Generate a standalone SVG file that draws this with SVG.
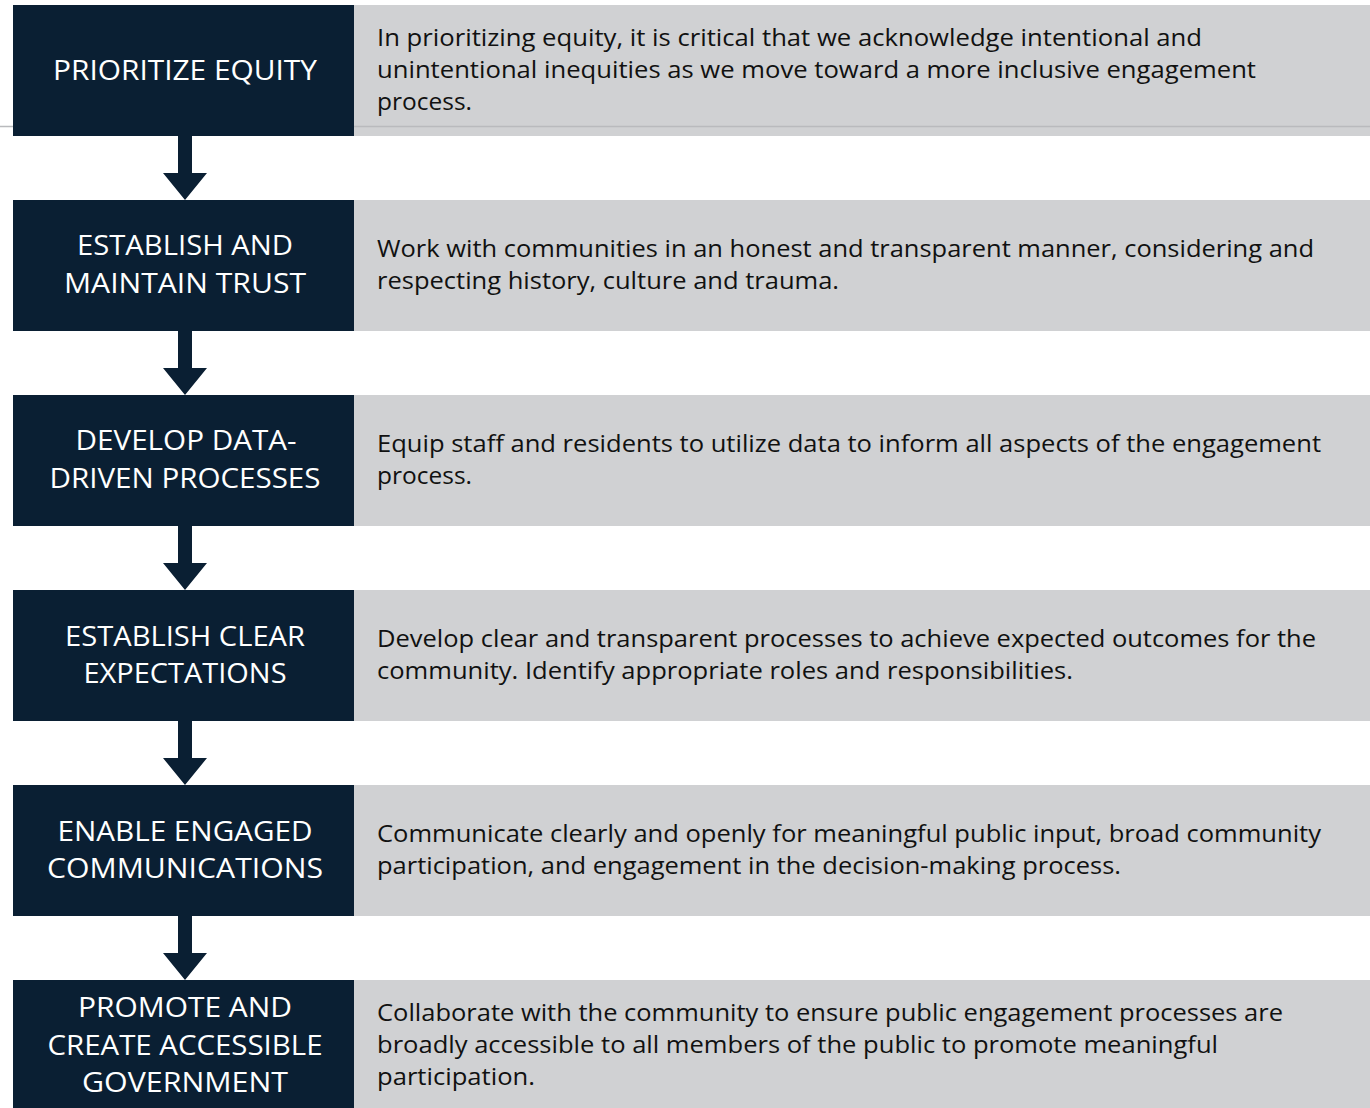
<svg xmlns="http://www.w3.org/2000/svg" width="1370" height="1108" viewBox="0 0 1370 1108">
<style>
.hd{fill:#0a1f33}
.bx{fill:#d0d1d3}
.ht{fill:#ffffff;font-family:"Open Sans","Liberation Sans",sans-serif;font-size:27px;text-anchor:middle}
.bt{fill:#111111;font-family:"Open Sans","Liberation Sans",sans-serif;font-size:24px}
.ar{fill:#0a1f33}
</style>
<rect x="0" y="0" width="1370" height="1108" fill="#ffffff"/>
<line x1="0" y1="126.5" x2="1370" y2="126.5" stroke="#b9babd" stroke-width="1.5"/>
<g id="connectors">
<polygon class="ar" points="178,136 192,136 192,173 207,173 185,200 163,173 178,173"/>
<polygon class="ar" points="178,331 192,331 192,368 207,368 185,395 163,368 178,368"/>
<polygon class="ar" points="178,526 192,526 192,563 207,563 185,590 163,563 178,563"/>
<polygon class="ar" points="178,721 192,721 192,758 207,758 185,785 163,758 178,758"/>
<polygon class="ar" points="178,916 192,916 192,953 207,953 185,980 163,953 178,953"/>
</g>
<g id="node1">
<rect class="bx" x="354" y="5" width="1016" height="131"/>
<line x1="354" y1="126.5" x2="1370" y2="126.5" stroke="#b9babd" stroke-width="1.5"/>
<rect class="hd" x="13" y="5" width="341" height="131"/>
<text class="ht" x="185" y="80" textLength="264" lengthAdjust="spacingAndGlyphs">PRIORITIZE EQUITY</text>
<text class="bt" x="377" y="46" textLength="825" lengthAdjust="spacingAndGlyphs">In prioritizing equity, it is critical that we acknowledge intentional and</text>
<text class="bt" x="377" y="78" textLength="879" lengthAdjust="spacingAndGlyphs">unintentional inequities as we move toward a more inclusive engagement</text>
<text class="bt" x="377" y="110" textLength="95" lengthAdjust="spacingAndGlyphs">process.</text>
</g>
<g id="node2">
<rect class="bx" x="354" y="200" width="1016" height="131"/>
<rect class="hd" x="13" y="200" width="341" height="131"/>
<text class="ht" x="185" y="255" textLength="216" lengthAdjust="spacingAndGlyphs">ESTABLISH AND</text>
<text class="ht" x="185" y="293" textLength="242" lengthAdjust="spacingAndGlyphs">MAINTAIN TRUST</text>
<text class="bt" x="377" y="257" textLength="937" lengthAdjust="spacingAndGlyphs">Work with communities in an honest and transparent manner, considering and</text>
<text class="bt" x="377" y="289" textLength="462" lengthAdjust="spacingAndGlyphs">respecting history, culture and trauma.</text>
</g>
<g id="node3">
<rect class="bx" x="354" y="395" width="1016" height="131"/>
<rect class="hd" x="13" y="395" width="341" height="131"/>
<text class="ht" x="186" y="450" textLength="221" lengthAdjust="spacingAndGlyphs">DEVELOP DATA-</text>
<text class="ht" x="185" y="488" textLength="271" lengthAdjust="spacingAndGlyphs">DRIVEN PROCESSES</text>
<text class="bt" x="377" y="452" textLength="944" lengthAdjust="spacingAndGlyphs">Equip staff and residents to utilize data to inform all aspects of the engagement</text>
<text class="bt" x="377" y="484" textLength="95" lengthAdjust="spacingAndGlyphs">process.</text>
</g>
<g id="node4">
<rect class="bx" x="354" y="590" width="1016" height="131"/>
<rect class="hd" x="13" y="590" width="341" height="131"/>
<text class="ht" x="185" y="646" textLength="240" lengthAdjust="spacingAndGlyphs">ESTABLISH CLEAR</text>
<text class="ht" x="185" y="683" textLength="203" lengthAdjust="spacingAndGlyphs">EXPECTATIONS</text>
<text class="bt" x="377" y="647" textLength="939" lengthAdjust="spacingAndGlyphs">Develop clear and transparent processes to achieve expected outcomes for the</text>
<text class="bt" x="377" y="679" textLength="696" lengthAdjust="spacingAndGlyphs">community. Identify appropriate roles and responsibilities.</text>
</g>
<g id="node5">
<rect class="bx" x="354" y="785" width="1016" height="131"/>
<rect class="hd" x="13" y="785" width="341" height="131"/>
<text class="ht" x="185" y="841" textLength="255" lengthAdjust="spacingAndGlyphs">ENABLE ENGAGED</text>
<text class="ht" x="185" y="878" textLength="276" lengthAdjust="spacingAndGlyphs">COMMUNICATIONS</text>
<text class="bt" x="377" y="842" textLength="944" lengthAdjust="spacingAndGlyphs">Communicate clearly and openly for meaningful public input, broad community</text>
<text class="bt" x="377" y="874" textLength="744" lengthAdjust="spacingAndGlyphs">participation, and engagement in the decision-making process.</text>
</g>
<g id="node6">
<rect class="bx" x="354" y="980" width="1016" height="128"/>
<rect class="hd" x="13" y="980" width="341" height="128"/>
<text class="ht" x="185" y="1017" textLength="214" lengthAdjust="spacingAndGlyphs">PROMOTE AND</text>
<text class="ht" x="185" y="1055" textLength="275" lengthAdjust="spacingAndGlyphs">CREATE ACCESSIBLE</text>
<text class="ht" x="185" y="1092" textLength="206" lengthAdjust="spacingAndGlyphs">GOVERNMENT</text>
<text class="bt" x="377" y="1021" textLength="906" lengthAdjust="spacingAndGlyphs">Collaborate with the community to ensure public engagement processes are</text>
<text class="bt" x="377" y="1053" textLength="841" lengthAdjust="spacingAndGlyphs">broadly accessible to all members of the public to promote meaningful</text>
<text class="bt" x="377" y="1085" textLength="158" lengthAdjust="spacingAndGlyphs">participation.</text>
</g>
</svg>
